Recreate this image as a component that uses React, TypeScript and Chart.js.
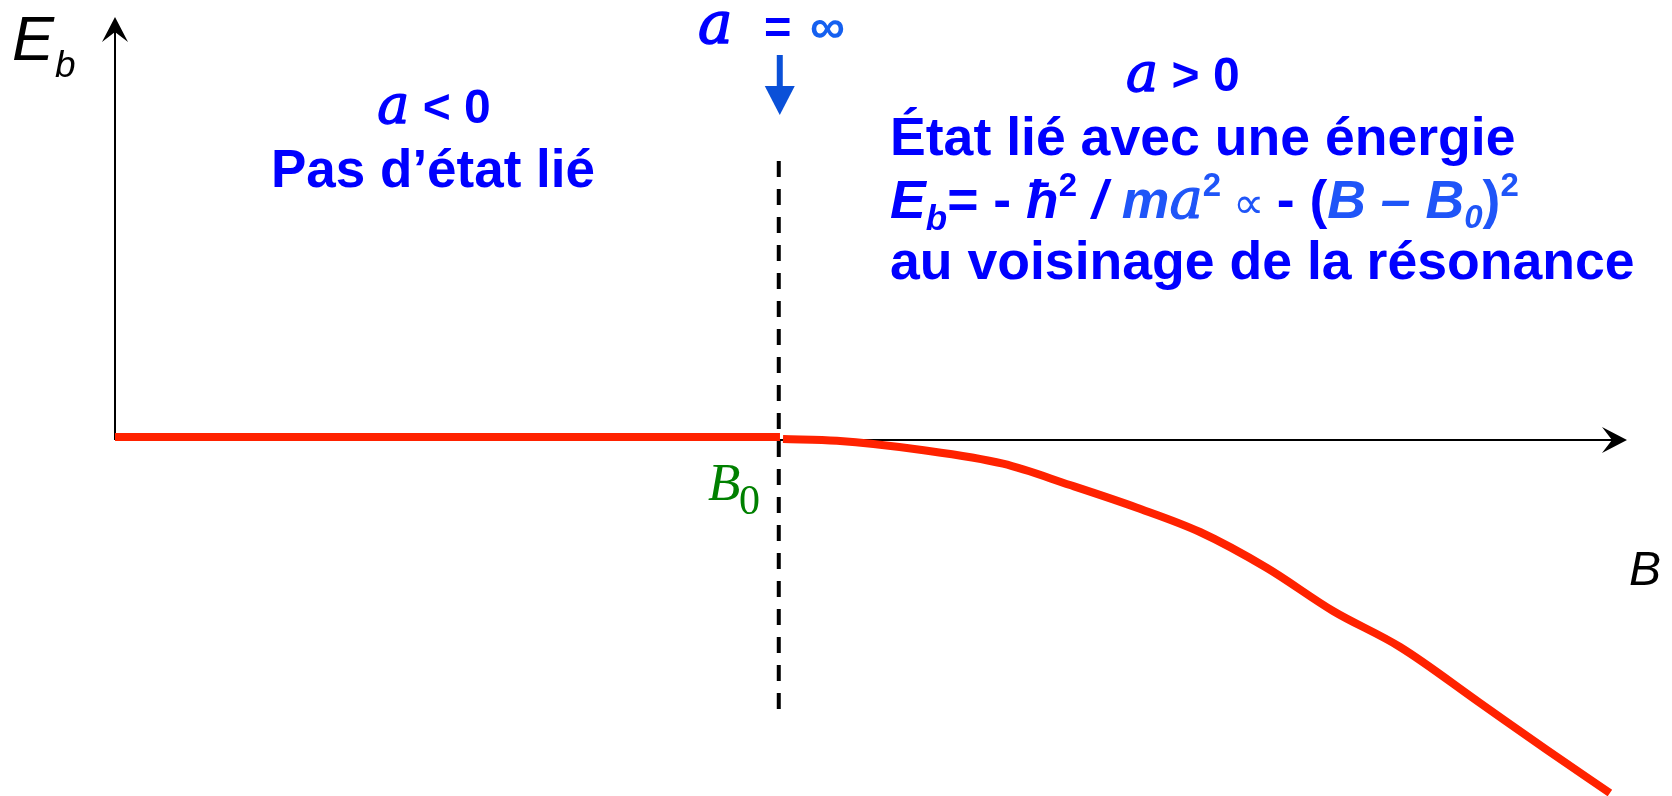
import React, { useEffect, useRef } from 'react';
import { Chart, registerables } from 'chart.js';

Chart.register(...registerables);

// ---- data (arbitrary units: B measured from the resonance B0 = 0) ----
const B0 = 0;
const bRange = [-43.9, 56.1];
const eRange = [-35.6, 42.3];
const flatB = [-43.9, 0.08];
const flatE = [0.3, 0.3];
const curveB = [0.28, 3.85, 9.34, 14.83, 19.26, 23.69, 27.86, 32.29, 36.66, 41.09, 46.38, 50.81, 54.97];
const curveE = [0.1, -0.07, -0.97, -2.37, -4.5, -6.77, -9.2, -12.8, -17.1, -20.7, -26.3, -31.0, -35.3];

const BLUE = '#0000ff';
const BLUE2 = '#1f55f8';
const RED = '#ff2200';
const SANS = '"Liberation Sans", Arial, sans-serif';
const SERIF = '"DejaVu Serif", "Liberation Serif", serif';

type Seg = { t: string; font: string; color: string; dy?: number; gap?: number; stroke?: number };

function runWidth(ctx: CanvasRenderingContext2D, segs: Seg[]) {
  let w = 0;
  for (const s of segs) {
    ctx.font = s.font;
    w += ctx.measureText(s.t).width + (s.gap || 0);
  }
  return w;
}

function drawRun(ctx: CanvasRenderingContext2D, x: number, y: number, segs: Seg[]) {
  let cx = x;
  for (const s of segs) {
    ctx.font = s.font;
    ctx.fillStyle = s.color;
    ctx.fillText(s.t, cx, y + (s.dy || 0));
    if (s.stroke) {
      ctx.strokeStyle = s.color;
      ctx.lineWidth = s.stroke;
      ctx.lineJoin = 'round';
      ctx.strokeText(s.t, cx, y + (s.dy || 0));
    }
    cx += ctx.measureText(s.t).width + (s.gap || 0);
  }
}

const decor = {
  id: 'decor',
  beforeDatasetsDraw(chart: any) {
    const ctx: CanvasRenderingContext2D = chart.ctx;
    const xs = chart.scales.x;
    const ys = chart.scales.y;
    const x0 = xs.getPixelForValue(bRange[0]);
    const y0 = ys.getPixelForValue(0);
    const right = chart.chartArea.right;
    const top = chart.chartArea.top;
    ctx.save();
    ctx.strokeStyle = '#000';
    ctx.fillStyle = '#000';
    ctx.lineWidth = 2;
    // x axis
    ctx.beginPath();
    ctx.moveTo(x0, y0);
    ctx.lineTo(right - 14, y0);
    ctx.stroke();
    ctx.beginPath();
    ctx.moveTo(right, y0);
    ctx.lineTo(right - 25, y0 - 13);
    ctx.lineTo(right - 15, y0);
    ctx.lineTo(right - 25, y0 + 13);
    ctx.closePath();
    ctx.fill();
    // y axis
    ctx.beginPath();
    ctx.moveTo(x0, y0);
    ctx.lineTo(x0, top + 14);
    ctx.stroke();
    ctx.beginPath();
    ctx.moveTo(x0, top);
    ctx.lineTo(x0 - 13, top + 25);
    ctx.lineTo(x0, top + 15);
    ctx.lineTo(x0 + 13, top + 25);
    ctx.closePath();
    ctx.fill();
    // dashed resonance line
    const xb = xs.getPixelForValue(B0);
    ctx.lineWidth = 4;
    ctx.setLineDash([16, 12]);
    ctx.beginPath();
    ctx.moveTo(xb, 161);
    ctx.lineTo(xb, 709);
    ctx.stroke();
    ctx.restore();
  },
  afterDatasetsDraw(chart: any) {
    const ctx: CanvasRenderingContext2D = chart.ctx;
    const xs = chart.scales.x;
    const xb = xs.getPixelForValue(B0);
    ctx.save();
    ctx.textBaseline = 'alphabetic';
    ctx.textAlign = 'left';

    // axis labels
    drawRun(ctx, 12, 60, [{ t: 'E', font: `italic 63px ${SANS}`, color: '#000' }]);
    drawRun(ctx, 55, 77, [{ t: 'b', font: `italic 37px ${SANS}`, color: '#000' }]);
    drawRun(ctx, 1629, 585, [{ t: 'B', font: `italic 48px ${SANS}`, color: '#000' }]);

    // B0 label
    drawRun(ctx, 708, 500, [{ t: 'B', font: `italic 53px "Liberation Serif", serif`, color: '#008000' }]);
    drawRun(ctx, 739, 514, [{ t: '0', font: `42px "Liberation Serif", serif`, color: '#008000' }]);

    // a = ∞
    drawRun(ctx, 698, 43, [{ t: 'a', font: `italic 58px ${SERIF}`, color: BLUE, stroke: 1.6 }]);
    drawRun(ctx, 764, 43, [{ t: '=', font: `bold 47px ${SANS}`, color: BLUE }]);
    drawRun(ctx, 810, 43, [{ t: '∞', font: `bold 49px ${SANS}`, color: '#1560f0' }]);

    // down arrow
    ctx.fillStyle = '#0a50d8';
    ctx.fillRect(xb - 2, 55, 6, 35);
    ctx.beginPath();
    ctx.moveTo(xb - 14, 86);
    ctx.lineTo(xb + 16, 86);
    ctx.lineTo(xb + 1, 115);
    ctx.closePath();
    ctx.fill();

    // left block
    const aLt: Seg[] = [
      { t: 'a', font: `italic 54px ${SERIF}`, color: BLUE, stroke: 1.4 },
      { t: ' < 0', font: `bold 48px ${SANS}`, color: BLUE },
    ];
    drawRun(ctx, 434 - runWidth(ctx, aLt) / 2, 123, aLt);
    ctx.font = `bold 53px ${SANS}`;
    ctx.fillStyle = BLUE;
    ctx.textAlign = 'center';
    ctx.fillText('Pas d’état lié', 433, 187);
    ctx.textAlign = 'left';

    // right block
    const aGt: Seg[] = [
      { t: 'a', font: `italic 54px ${SERIF}`, color: BLUE, stroke: 1.4 },
      { t: ' > 0', font: `bold 48px ${SANS}`, color: BLUE },
    ];
    drawRun(ctx, 1126, 91, aGt);
    const L = 890;
    const F = `bold 53.6px ${SANS}`;
    const FI = `bold italic 53.6px ${SANS}`;
    const FS = `bold 33px ${SANS}`;
    drawRun(ctx, L, 155, [{ t: 'État lié avec une énergie', font: F, color: BLUE }]);
    drawRun(ctx, L, 218, [
      { t: 'E', font: FI, color: BLUE },
      { t: 'b', font: `bold italic 35px ${SANS}`, color: BLUE, dy: 12 },
      { t: '= - ', font: F, color: BLUE },
      { t: 'ħ', font: FI, color: BLUE },
      { t: '2', font: FS, color: BLUE, dy: -22 },
      { t: ' / ', font: FI, color: BLUE },
      { t: 'm', font: FI, color: BLUE2 },
      { t: 'a', font: `italic 56px ${SERIF}`, color: BLUE2, stroke: 1.2 },
      { t: '2', font: FS, color: BLUE2, dy: -22 },
      { t: ' ∝ ', font: `44px ${SANS}`, color: BLUE2 },
      { t: '- (', font: F, color: BLUE },
      { t: 'B – B', font: FI, color: BLUE2 },
      { t: '0', font: `bold italic 33px ${SANS}`, color: BLUE2, dy: 10 },
      { t: ')', font: F, color: BLUE2 },
      { t: '2', font: FS, color: BLUE2, dy: -22 },
    ]);
    drawRun(ctx, L, 279, [{ t: 'au voisinage de la résonance', font: F, color: BLUE }]);
    ctx.restore();
  },
};

export default function App() {
  const ref = useRef<HTMLCanvasElement | null>(null);
  useEffect(() => {
    if (!ref.current) return;
    const chart = new Chart(ref.current, {
      type: 'scatter',
      data: {
        datasets: [
          {
            data: flatB.map((b, i) => ({ x: b, y: flatE[i] })),
            showLine: true,
            borderColor: RED,
            borderWidth: 8,
            pointRadius: 0,
            tension: 0,
          },
          {
            data: curveB.map((b, i) => ({ x: b, y: curveE[i] })),
            showLine: true,
            borderColor: RED,
            borderWidth: 8,
            pointRadius: 0,
            cubicInterpolationMode: 'monotone',
          },
        ],
      },
      options: {
        animation: false,
        responsive: true,
        maintainAspectRatio: false,
        layout: { padding: { left: 115, right: 45, top: 17, bottom: 0 } },
        plugins: { legend: { display: false }, tooltip: { enabled: false } },
        events: [],
        scales: {
          x: { type: 'linear', min: bRange[0], max: bRange[1], display: false },
          y: { type: 'linear', min: eRange[0], max: eRange[1], display: false },
        },
      },
      plugins: [decor],
    });
    return () => chart.destroy();
  }, []);
  return (
    <div style={{ position: 'absolute', left: 0, top: 0, width: 1672, height: 796, background: '#fff' }}>
      <canvas ref={ref} />
    </div>
  );
}
